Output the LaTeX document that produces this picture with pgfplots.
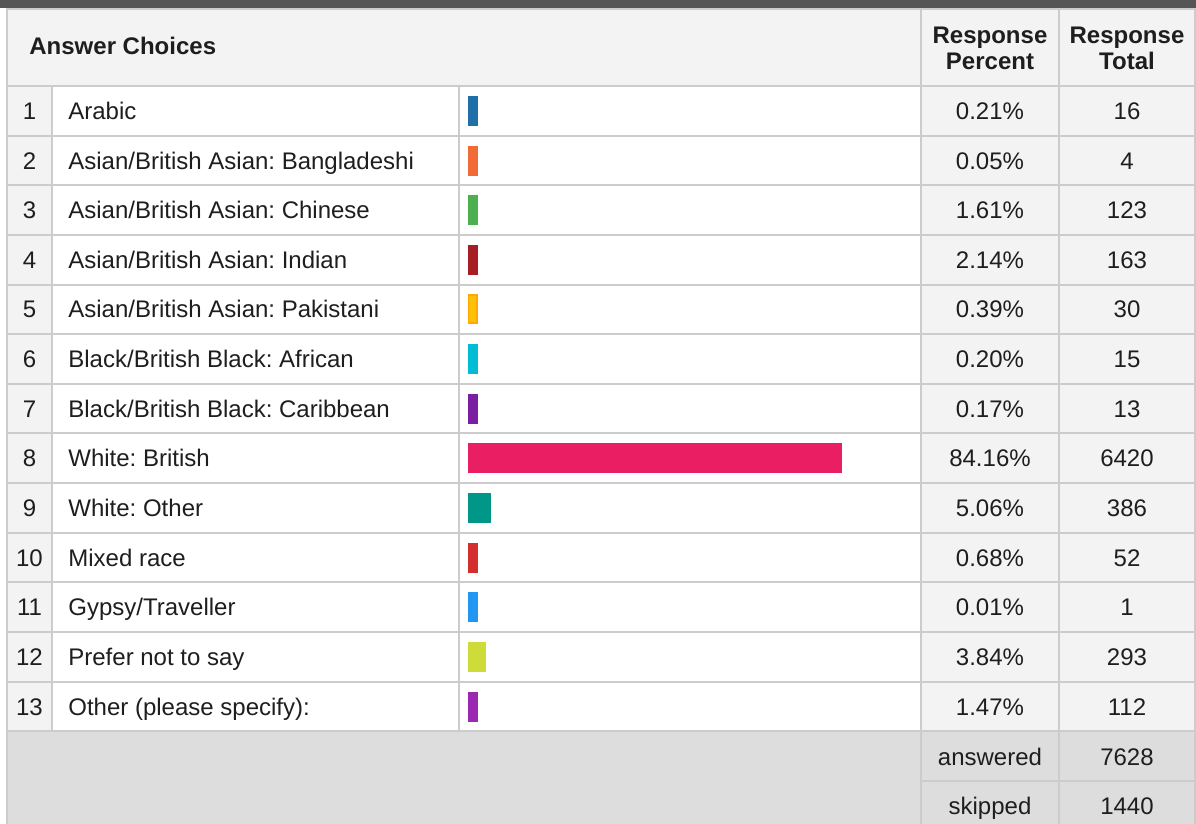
\documentclass[border=0pt]{standalone}
\usepackage{fontspec}
\setmainfont{Liberation Sans}
\usepackage{pgfplots}
\pgfplotsset{compat=1.18}
\frenchspacing
\definecolor{topbar}{HTML}{555555}
\definecolor{hdr}{HTML}{F3F3F3}
\definecolor{foot}{HTML}{DDDDDD}
\definecolor{gridc}{HTML}{CCCCCC}
\definecolor{txt}{HTML}{1E1E1E}
\definecolor{c1}{HTML}{1F6FA8}
\definecolor{c2}{HTML}{F26B36}
\definecolor{c3}{HTML}{4CAF50}
\definecolor{c4}{HTML}{A61D24}
\definecolor{c5}{HTML}{FFC107}
\definecolor{c5b}{HTML}{FFA800}
\definecolor{c6}{HTML}{00BCD4}
\definecolor{c7}{HTML}{7B1FA2}
\definecolor{c8}{HTML}{E91E63}
\definecolor{c9}{HTML}{009688}
\definecolor{c10}{HTML}{D32F2F}
\definecolor{c11}{HTML}{2196F3}
\definecolor{c12}{HTML}{CDDC39}
\definecolor{c13}{HTML}{9C27B0}
\begin{document}
\frenchspacing
\begin{tikzpicture}[font=\fontsize{12}{13}\selectfont\frenchspacing,text=txt]
\begin{scope}[x=0.5pt,y=-0.5pt]
\useasboundingbox (0,0) rectangle (1196,824);
\begin{scope}
\clip (0,0) rectangle (1196,824);
% backgrounds
\fill[hdr] (7,9) rectangle (1196,86);
\fill[hdr] (7,86) rectangle (52,731.4);
\fill[white] (52,86) rectangle (921,731.4);
\fill[hdr] (921,86) rectangle (1196,731.4);
\fill[foot] (7,731.4) rectangle (1196,840);
\fill[topbar] (0,0) rectangle (1196,8);
% grid lines
\begin{scope}[draw=gridc,line width=1pt]
\draw (7,8) -- (7,840);
\draw (52,86) -- (52,731.4);
\draw (459,86) -- (459,731.4);
\draw (921,8) -- (921,840);
\draw (1059,8) -- (1059,840);
\draw (1195,8) -- (1195,840);
\draw (7,9) -- (1196,9);
\foreach \k in {0,...,13} {\draw (7,86+\k*49.64) -- (1196,86+\k*49.64);}
\draw (921,781) -- (1196,781);
\end{scope}
% header
\node[anchor=base west,inner sep=0,font=\fontsize{12}{13}\selectfont\bfseries] at (29,55) {Answer Choices};
\node[anchor=base,inner sep=0,font=\fontsize{12}{13}\selectfont\bfseries] at (990,44) {Response};
\node[anchor=base,inner sep=0,font=\fontsize{12}{13}\selectfont\bfseries] at (990,70) {Percent};
\node[anchor=base,inner sep=0,font=\fontsize{12}{13}\selectfont\bfseries] at (1127,44) {Response};
\node[anchor=base,inner sep=0,font=\fontsize{12}{13}\selectfont\bfseries] at (1127,70) {Total};
% rows
\foreach \lab/\pct/\tot [count=\i] in {
  {Arabic}/0.21/16,
  {Asian/British Asian: Bangladeshi}/0.05/4,
  {Asian/British Asian: Chinese}/1.61/123,
  {Asian/British Asian: Indian}/2.14/163,
  {Asian/British Asian: Pakistani}/0.39/30,
  {Black/British Black: African}/0.20/15,
  {Black/British Black: Caribbean}/0.17/13,
  {White: British}/84.16/6420,
  {White: Other}/5.06/386,
  {Mixed race}/0.68/52,
  {Gypsy/Traveller}/0.01/1,
  {Prefer not to say}/3.84/293,
  {Other (please specify):}/1.47/112} {
  \pgfmathsetmacro{\yb}{86+(\i-0.5)*49.64+8.6}
  \node[anchor=base,inner sep=0] at (29.5,\yb) {\i};
  \node[anchor=base west,inner sep=0] at (68,\yb) {\lab};
  \node[anchor=base,inner sep=0] at (990,\yb) {\pct\%};
  \node[anchor=base,inner sep=0] at (1127,\yb) {\tot};
}
\node[anchor=base,inner sep=0] at (990,765) {answered};
\node[anchor=base,inner sep=0] at (1127,765) {7628};
\node[anchor=base,inner sep=0] at (990,814.5) {skipped};
\node[anchor=base,inner sep=0] at (1127,814.5) {1440};
\end{scope}
\end{scope}
\begin{axis}[at={(234pt,-43pt)}, anchor=north west, scale only axis,
  width=226pt, height=322.82pt,
  xmin=0, xmax=102, ymin=0.5, ymax=13.5, y dir=reverse,
  hide axis, xbar, bar width=14pt, bar shift=0pt,
  x filter/.expression={max(x,2.03)},
  every axis plot/.append style={line width=1pt}]
\addplot[fill=c1,draw=c1] coordinates {(0.21,1)};
\addplot[fill=c2,draw=c2] coordinates {(0.05,2)};
\addplot[fill=c3,draw=c3] coordinates {(1.61,3)};
\addplot[fill=c4,draw=c4] coordinates {(2.14,4)};
\addplot[fill=c5,draw=c5b] coordinates {(0.39,5)};
\addplot[fill=c6,draw=c6] coordinates {(0.20,6)};
\addplot[fill=c7,draw=c7] coordinates {(0.17,7)};
\addplot[fill=c8,draw=c8] coordinates {(84.16,8)};
\addplot[fill=c9,draw=c9] coordinates {(5.06,9)};
\addplot[fill=c10,draw=c10] coordinates {(0.68,10)};
\addplot[fill=c11,draw=c11] coordinates {(0.01,11)};
\addplot[fill=c12,draw=c12] coordinates {(3.84,12)};
\addplot[fill=c13,draw=c13] coordinates {(1.47,13)};
\end{axis}
\end{tikzpicture}
\end{document}
